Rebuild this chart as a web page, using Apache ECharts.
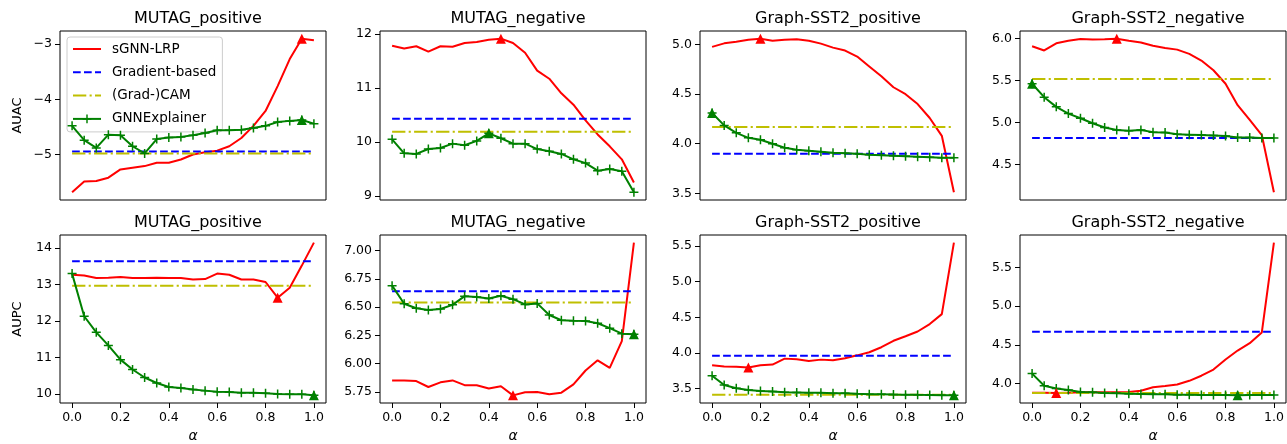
<!DOCTYPE html>
<html><head><meta charset="utf-8">
<script src="https://cdn.jsdelivr.net/npm/echarts@6/dist/echarts.min.js"></script>
<style>html,body{margin:0;padding:0;background:#fff}#c{width:1287px;height:444px}</style>
</head><body><div id="c"></div>
<script>
// ---------- data ----------
const alpha = [0.00,0.05,0.10,0.15,0.20,0.25,0.30,0.35,0.40,0.45,0.50,0.55,0.60,0.65,0.70,0.75,0.80,0.85,0.90,0.95,1.00];
const panelTitles = ['MUTAG_positive','MUTAG_negative','Graph-SST2_positive','Graph-SST2_negative',
                     'MUTAG_positive','MUTAG_negative','Graph-SST2_positive','Graph-SST2_negative'];
const rowMetrics = ['AUAC','AUPC'];
const methodNames = ['sGNN-LRP','Gradient-based','(Grad-)CAM','GNNExplainer'];

// AUAC row
const auacMutagPosLrp = [-5.685,-5.49,-5.48,-5.42,-5.27,-5.24,-5.21,-5.15,-5.15,-5.09,-5.00,-4.96,-4.93,-4.85,-4.70,-4.48,-4.21,-3.76,-3.27,-2.90,-2.93];
const auacMutagPosGnn = [-4.48,-4.74,-4.88,-4.64,-4.65,-4.85,-4.98,-4.72,-4.69,-4.68,-4.65,-4.61,-4.56,-4.56,-4.55,-4.52,-4.48,-4.41,-4.39,-4.375,-4.44];
const auacMutagPosGrad = -4.945, auacMutagPosCam = -4.98;

const auacMutagNegLrp = [11.78,11.73,11.77,11.67,11.77,11.76,11.83,11.85,11.89,11.91,11.83,11.65,11.32,11.17,10.90,10.69,10.40,10.14,9.92,9.68,9.25];
const auacMutagNegGnn = [10.05,9.79,9.78,9.87,9.89,9.97,9.94,10.02,10.16,10.07,9.97,9.97,9.87,9.83,9.78,9.68,9.61,9.47,9.50,9.46,9.07];
const auacMutagNegGrad = 10.43, auacMutagNegCam = 10.19;

const auacSstPosLrp = [4.977,5.013,5.03,5.05,5.06,5.04,5.05,5.055,5.04,5.01,4.97,4.94,4.88,4.78,4.68,4.57,4.50,4.40,4.26,4.08,3.51];
const auacSstPosGnn = [4.31,4.185,4.11,4.06,4.04,4.00,3.96,3.94,3.93,3.92,3.91,3.905,3.90,3.89,3.885,3.88,3.875,3.87,3.865,3.86,3.858];
const auacSstPosGrad = 3.90, auacSstPosCam = 4.17;

const auacSstNegLrp = [5.905,5.855,5.94,5.97,5.99,5.985,5.988,5.995,5.97,5.95,5.91,5.885,5.865,5.815,5.735,5.62,5.46,5.205,5.03,4.85,4.17];
const auacSstNegGnn = [5.46,5.30,5.185,5.105,5.05,4.99,4.94,4.91,4.90,4.91,4.885,4.88,4.86,4.855,4.85,4.845,4.84,4.82,4.82,4.815,4.815];
const auacSstNegGrad = 4.815, auacSstNegCam = 5.515;

// AUPC row
const aupcMutagPosLrp = [13.27,13.25,13.18,13.19,13.21,13.18,13.18,13.19,13.18,13.18,13.14,13.15,13.30,13.27,13.14,13.14,13.07,12.64,12.91,13.52,14.15];
const aupcMutagPosGnn = [13.30,12.13,11.69,11.33,10.94,10.67,10.45,10.30,10.19,10.16,10.12,10.09,10.06,10.05,10.03,10.03,10.02,10.00,9.99,9.99,9.96];
const aupcMutagPosGrad = 13.64, aupcMutagPosCam = 12.97;

const aupcMutagNegLrp = [5.852,5.852,5.846,5.794,5.835,5.852,5.81,5.81,5.78,5.80,5.72,5.747,5.75,5.73,5.744,5.817,5.94,6.03,5.963,6.20,7.07];
const aupcMutagNegGnn = [6.69,6.53,6.49,6.474,6.483,6.52,6.597,6.59,6.577,6.60,6.57,6.524,6.533,6.43,6.384,6.38,6.378,6.357,6.314,6.265,6.26];
const aupcMutagNegGrad = 6.64, aupcMutagNegCam = 6.54;

const aupcSstPosLrp = [3.828,3.81,3.805,3.795,3.828,3.837,3.92,3.91,3.888,3.906,3.897,3.925,3.966,4.01,4.08,4.17,4.234,4.30,4.405,4.544,5.546];
const aupcSstPosGnn = [3.68,3.55,3.505,3.48,3.467,3.458,3.449,3.445,3.44,3.44,3.435,3.435,3.426,3.42,3.42,3.417,3.415,3.412,3.41,3.408,3.405];
const aupcSstPosGrad = 3.962, aupcSstPosCam = 3.412;

const aupcSstNegLrp = [3.88,3.88,3.875,3.88,3.885,3.885,3.885,3.885,3.89,3.906,3.95,3.966,3.987,4.034,4.10,4.18,4.31,4.425,4.52,4.66,5.82];
const aupcSstNegGnn = [4.127,3.97,3.936,3.915,3.89,3.885,3.877,3.872,3.868,3.864,3.86,3.86,3.855,3.855,3.851,3.851,3.851,3.846,3.851,3.851,3.851];
const aupcSstNegGrad = 4.667, aupcSstNegCam = 3.877;

// tick labels
const xTickValues = [0.0,0.2,0.4,0.6,0.8,1.0];
const yTicksP1 = [-5,-4,-3];
const yTicksP2 = [9,10,11,12];
const yTicksP3 = [3.5,4.0,4.5,5.0];
const yTicksP4 = [4.5,5.0,5.5,6.0];
const yTicksP5 = [10,11,12,13,14];
const yTicksP6 = [5.75,6.00,6.25,6.50,6.75,7.00];
const yTicksP7 = [3.5,4.0,4.5,5.0,5.5];
const yTicksP8 = [4.0,4.5,5.0,5.5];

// ---------- build ----------
const panels = [
  {lrp:auacMutagPosLrp, gnn:auacMutagPosGnn, grad:auacMutagPosGrad, cam:auacMutagPosCam, ticks:yTicksP1, dec:0},
  {lrp:auacMutagNegLrp, gnn:auacMutagNegGnn, grad:auacMutagNegGrad, cam:auacMutagNegCam, ticks:yTicksP2, dec:0},
  {lrp:auacSstPosLrp,   gnn:auacSstPosGnn,   grad:auacSstPosGrad,   cam:auacSstPosCam,   ticks:yTicksP3, dec:1},
  {lrp:auacSstNegLrp,   gnn:auacSstNegGnn,   grad:auacSstNegGrad,   cam:auacSstNegCam,   ticks:yTicksP4, dec:1},
  {lrp:aupcMutagPosLrp, gnn:aupcMutagPosGnn, grad:aupcMutagPosGrad, cam:aupcMutagPosCam, ticks:yTicksP5, dec:0},
  {lrp:aupcMutagNegLrp, gnn:aupcMutagNegGnn, grad:aupcMutagNegGrad, cam:aupcMutagNegCam, ticks:yTicksP6, dec:2},
  {lrp:aupcSstPosLrp,   gnn:aupcSstPosGnn,   grad:aupcSstPosGrad,   cam:aupcSstPosCam,   ticks:yTicksP7, dec:1},
  {lrp:aupcSstNegLrp,   gnn:aupcSstNegGnn,   grad:aupcSstNegGrad,   cam:aupcSstNegCam,   ticks:yTicksP8, dec:1}
];

const F = 'DejaVu Sans';
const colLeft = [60, 380, 700, 1020];
const rowTop = [31, 235];
const gridW = 266, gridH = 169;
const RED = '#ff0000', BLUE = '#0000ff', YEL = '#bfbf00', GRN = '#008000';
const PLUS = 'path://M5,0H7V5H12V7H7V12H5V7H0V5H5Z';

const grids = [], xAxes = [], yAxes = [], series = [], titles = [];
const xLo = Math.min(...alpha), xHi = Math.max(...alpha), xPad = (xHi - xLo) * 0.05;

panels.forEach((p, i) => {
  const r = Math.floor(i / 4), c = i % 4;
  grids.push({left: colLeft[c], top: rowTop[r], width: gridW, height: gridH,
    show: true, borderColor: '#000', borderWidth: 1, backgroundColor: 'transparent'});
  titles.push({text: panelTitles[i], left: colLeft[c] + gridW / 2, top: rowTop[r] - 25, textAlign: 'center',
    textStyle: {fontFamily: F, fontSize: 16, fontWeight: 'normal', color: '#000'}});

  const all = p.lrp.concat(p.gnn, [p.grad, p.cam]);
  const lo = Math.min(...all), hi = Math.max(...all), pad = (hi - lo) * 0.05;

  xAxes.push({gridIndex: i, type: 'value', min: xLo - xPad, max: xHi + xPad,
    axisLine: {show: false, onZero: false}, splitLine: {show: false},
    axisTick: {show: r === 1, length: 5, lineStyle: {color: '#000', width: 1}, customValues: xTickValues},
    axisLabel: {show: r === 1, customValues: xTickValues, formatter: v => v.toFixed(1),
      color: '#000', fontSize: 12.5, fontFamily: F, margin: 8},
    name: r === 1 ? 'α' : '', nameLocation: 'middle', nameGap: 26,
    nameTextStyle: {fontFamily: F, fontStyle: 'italic', fontSize: 14, color: '#000'}});

  yAxes.push({gridIndex: i, type: 'value', min: lo - pad, max: hi + pad,
    axisLine: {show: false, onZero: false}, splitLine: {show: false},
    axisTick: {show: true, length: 5, lineStyle: {color: '#000', width: 1}, customValues: p.ticks},
    axisLabel: {customValues: p.ticks, formatter: v => v.toFixed(p.dec).replace('-', '\u2212'),
      color: '#000', fontSize: 12.5, fontFamily: F, margin: 8},
    name: c === 0 ? rowMetrics[r] : '', nameLocation: 'middle', nameGap: 36,
    nameTextStyle: {fontFamily: F, fontSize: 13, color: '#000'}});

  const common = {xAxisIndex: i, yAxisIndex: i, animation: false, silent: true, emphasis: {disabled: true}};
  const noMark = {symbol: 'circle', showSymbol: false, itemStyle: {color: 'transparent', borderColor: 'transparent'}};
  series.push(Object.assign({type: 'line', name: methodNames[0], z: 2,
    data: alpha.map((a, k) => [a, p.lrp[k]]),
    lineStyle: {color: RED, width: 2}}, noMark, common));
  series.push(Object.assign({type: 'line', name: methodNames[1], z: 3,
    data: [[alpha[0], p.grad], [alpha[alpha.length - 1], p.grad]],
    lineStyle: {color: BLUE, width: 2, type: [7.7, 3.3]}}, noMark, common));
  series.push(Object.assign({type: 'line', name: methodNames[2], z: 4,
    data: [[alpha[0], p.cam], [alpha[alpha.length - 1], p.cam]],
    lineStyle: {color: YEL, width: 2, type: [13.3, 3.3, 2.1, 3.3]}}, noMark, common));
  series.push(Object.assign({type: 'line', name: methodNames[3], symbol: PLUS, symbolSize: 9,
    showSymbol: true, showAllSymbol: true, z: 5,
    data: alpha.map((a, k) => [a, p.gnn[k]]),
    lineStyle: {color: GRN, width: 2}, itemStyle: {color: GRN}}, common));

  // best point markers (max for AUAC, min for AUPC)
  const pick = arr => {
    const target = r === 0 ? Math.max(...arr) : Math.min(...arr);
    const k = arr.indexOf(target);
    return [alpha[k], arr[k]];
  };
  series.push(Object.assign({type: 'scatter', name: 'best-lrp', symbol: 'triangle', symbolSize: 10, z: 6,
    data: [pick(p.lrp)], itemStyle: {color: RED, opacity: 1}}, common));
  series.push(Object.assign({type: 'scatter', name: 'best-gnn', symbol: 'triangle', symbolSize: 10, z: 6,
    data: [pick(p.gnn)], itemStyle: {color: GRN, opacity: 1}}, common));
});

const chart = echarts.init(document.getElementById('c'), null, {renderer: 'canvas'});
chart.setOption({
  backgroundColor: '#fff',
  animation: false,
  title: titles,
  grid: grids, xAxis: xAxes, yAxis: yAxes, series: series,
  legend: {data: methodNames, orient: 'vertical', left: 67, top: 37, padding: [5, 6, 6, 5],
    itemGap: 9.3, itemWidth: 28, itemHeight: 11, selectedMode: false,
    backgroundColor: 'rgba(255,255,255,0.8)', borderColor: '#cccccc', borderWidth: 1, borderRadius: 3,
    textStyle: {fontFamily: F, fontSize: 13.5, color: '#000', padding: [0, 0, 0, 6]}}
});
</script></body></html>
